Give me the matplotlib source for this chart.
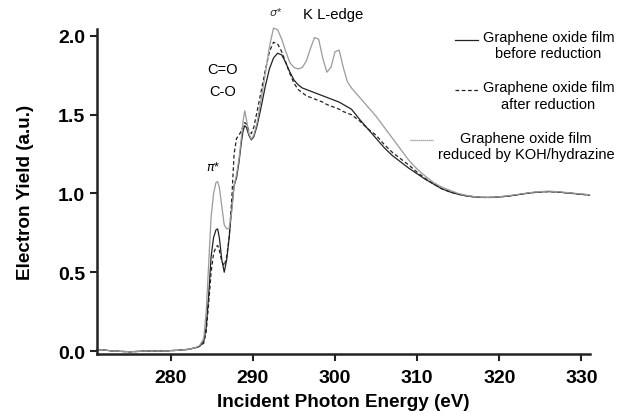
import matplotlib.pyplot as plt
from matplotlib.lines import Line2D
from matplotlib.offsetbox import (AnchoredOffsetbox, DrawingArea, HPacker,
                                  TextArea, VPacker)

# incident photon energy (eV)
energy = [271, 273, 275, 277, 279, 281, 282, 283, 283.5, 284, 284.3, 284.6, 284.9, 285.2,
          285.5, 285.7, 285.9, 286.2, 286.5, 286.8, 287.1, 287.4, 287.7, 288.0, 288.3, 288.6,
          288.8, 289.0, 289.2, 289.5, 289.8, 290.1, 290.5, 291.0, 291.5, 292.0, 292.5, 293.0,
          293.5, 294.0, 294.5, 295.0, 295.5, 296.0, 296.5, 297.0, 297.5, 298.0, 298.5, 299.0,
          299.5, 300.0, 300.5, 301.0, 301.5, 302, 303, 304, 305, 306, 307, 308, 309, 310, 311,
          312, 313, 314, 315, 316, 317, 318, 319, 320, 321, 322, 323, 324, 325, 326, 327, 328,
          329, 330, 331]

before = [0.01, 0.0, -0.005, 0.0, 0.0, 0.005, 0.01, 0.02, 0.03, 0.06, 0.15, 0.35, 0.6, 0.72,
          0.77, 0.775, 0.72, 0.58, 0.5, 0.58, 0.72, 0.9, 1.05, 1.1, 1.2, 1.33,
          1.4, 1.43, 1.42, 1.37, 1.34, 1.36, 1.43, 1.55, 1.68, 1.79, 1.86, 1.89,
          1.88, 1.83, 1.77, 1.72, 1.69, 1.67, 1.66, 1.65, 1.64, 1.63, 1.62, 1.61,
          1.6, 1.59, 1.58, 1.565, 1.55, 1.535, 1.47, 1.41, 1.35, 1.29, 1.24, 1.2, 1.16, 1.125, 1.09,
          1.06, 1.03, 1.01, 0.995, 0.985, 0.978, 0.975, 0.975, 0.978, 0.983, 0.99, 0.998, 1.005,
          1.01, 1.012, 1.01, 1.005, 1.0, 0.995, 0.99]

after = [0.01, 0.0, -0.005, 0.0, 0.0, 0.005, 0.01, 0.02, 0.03, 0.05, 0.12, 0.3, 0.5, 0.62,
         0.66, 0.67, 0.64, 0.57, 0.54, 0.6, 0.72, 0.95, 1.25, 1.35, 1.37, 1.4,
         1.43, 1.45, 1.44, 1.4, 1.38, 1.42, 1.52, 1.65, 1.78, 1.9, 1.96, 1.95,
         1.9, 1.83, 1.76, 1.7, 1.66, 1.64, 1.62, 1.61, 1.6, 1.59, 1.58, 1.565,
         1.555, 1.545, 1.535, 1.52, 1.51, 1.5, 1.46, 1.41, 1.37, 1.31, 1.26, 1.22, 1.18, 1.135, 1.095,
         1.06, 1.03, 1.01, 0.995, 0.985, 0.978, 0.975, 0.975, 0.978, 0.983, 0.99, 0.998, 1.005,
         1.01, 1.012, 1.01, 1.005, 1.0, 0.995, 0.99]

koh = [0.01, 0.0, -0.005, 0.0, 0.0, 0.005, 0.01, 0.02, 0.035, 0.08, 0.25, 0.55, 0.85, 1.0,
       1.07, 1.075, 1.04, 0.92, 0.8, 0.775, 0.78, 0.88, 1.05, 1.12, 1.22, 1.36,
       1.46, 1.525, 1.47, 1.38, 1.345, 1.37, 1.45, 1.6, 1.76, 1.93, 2.05, 2.04,
       1.98, 1.9, 1.83, 1.8, 1.79, 1.8, 1.84, 1.92, 1.99, 1.98, 1.86, 1.77,
       1.8, 1.9, 1.91, 1.8, 1.71, 1.67, 1.61, 1.55, 1.49, 1.42, 1.35, 1.28, 1.21, 1.155, 1.11,
       1.07, 1.04, 1.02, 1.0, 0.988, 0.98, 0.976, 0.976, 0.979, 0.985, 0.992, 1.0, 1.007,
       1.012, 1.015, 1.012, 1.007, 1.002, 0.997, 0.992]

labels = ['Graphene oxide film\nbefore reduction',
          'Graphene oxide film\nafter reduction',
          'Graphene oxide film\nreduced by KOH/hydrazine']

plt.rcParams['font.family'] = ['Liberation Sans', 'DejaVu Sans']

fig = plt.figure(figsize=(6.3, 4.14), dpi=100)
ax = fig.add_axes([0.154, 0.1425, 0.783, 0.785])

styles = [dict(color='#222222', lw=0.9, ls='-'),
          dict(color='#222222', lw=0.9, ls=(0, (3, 2))),
          dict(color='#9a9a9a', lw=0.9, ls='-')]
# legend handle for the light curve is drawn dotted, as in the original
handle_styles = [styles[0], styles[1], dict(color='#8c8c8c', lw=0.9, ls=(0, (1, 0.6)))]

for ys, st in zip([before, after, koh], styles):
    ax.plot(energy, ys, clip_on=False, **st)

ax.set_xlim(271, 331.1)
ax.set_ylim(-0.019, 2.044)
ax.set_xticks([280, 290, 300, 310, 320, 330])
ax.set_yticks([0.0, 0.5, 1.0, 1.5, 2.0])
ax.set_yticklabels(['0.0', '0.5', '1.0', '1.5', '2.0'])

for s in ['top', 'right']:
    ax.spines[s].set_visible(False)
for s in ['left', 'bottom']:
    ax.spines[s].set_linewidth(1.8)
    ax.spines[s].set_color('#222222')
ax.tick_params(direction='out', length=5, width=1.5, color='#222222', labelsize=14)
ax.tick_params(axis='x', pad=6)
for t in ax.get_xticklabels() + ax.get_yticklabels():
    t.set_fontweight('bold')

ax.set_xlabel('Incident Photon Energy (eV)', fontsize=13.6, fontweight='bold', labelpad=5)
ax.set_ylabel('Electron Yield (a.u.)', fontsize=13.6, fontweight='bold', labelpad=17)

# peak labels
ax.text(292.8, 2.16, r'$\sigma$*', fontsize=8, ha='center', va='center', color='#333333')
ax.text(299.8, 2.14, 'K L-edge', fontsize=10.7, ha='center', va='center')
ax.text(286.3, 1.79, 'C=O', fontsize=10.5, ha='center', va='center')
ax.text(286.3, 1.65, 'C-O', fontsize=10.5, ha='center', va='center')
ax.text(285.2, 1.17, r'$\pi$*', fontsize=9, ha='center', va='center')

# legend, entries right aligned with centred two-line labels
rows = []
for lab, st in zip(labels, handle_styles):
    da = DrawingArea(17, 12, 0, 0)
    da.add_artist(Line2D([0, 17], [5, 5], **st))
    ta = TextArea(lab, textprops=dict(fontsize=10.5, multialignment='center'))
    rows.append(HPacker(children=[da, ta], align='top', pad=0, sep=3))
box = VPacker(children=rows, align='right', pad=0, sep=14.5)
anch = AnchoredOffsetbox(loc='upper right', child=box, frameon=False,
                         bbox_to_anchor=(0.975, 0.925), bbox_transform=fig.transFigure,
                         borderpad=0, pad=0)
ax.add_artist(anch)

fig.savefig('out.png', dpi=100)
